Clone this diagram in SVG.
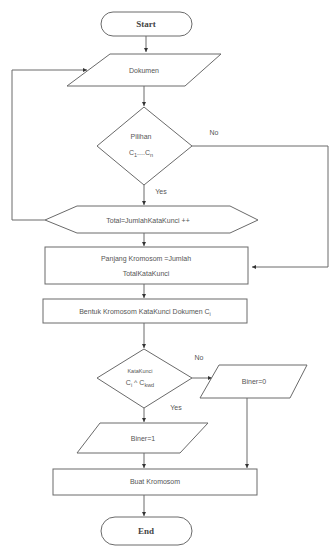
<svg xmlns="http://www.w3.org/2000/svg" width="333" height="548" viewBox="0 0 333 548">
<style>
.s{fill:#fff;stroke:#6a6a6a;stroke-width:1}
.c{fill:none;stroke:#6a6a6a;stroke-width:1}
.t{font-family:"Liberation Sans",Arial,sans-serif;font-size:7px;fill:#555;text-anchor:middle}
.sm{font-size:5.5px}
.b{font-family:"Liberation Serif","Times New Roman",serif;font-size:9px;font-weight:bold;fill:#444;text-anchor:middle}
</style>
<defs>
<marker id="a" viewBox="0 0 6 6" refX="6" refY="3" markerWidth="4" markerHeight="4" orient="auto">
<path d="M0,0L6,3L0,6z" fill="#333"/>
</marker>
</defs>
<g id="connectors">
<path class="c" d="M146,36V52" marker-end="url(#a)"/>
<path class="c" d="M144,86V106" marker-end="url(#a)"/>
<path class="c" d="M192,146H328V267H252" marker-end="url(#a)"/>
<path class="c" d="M144,185V205" marker-end="url(#a)"/>
<path class="c" d="M45,220H12V70H87" marker-end="url(#a)"/>
<path class="c" d="M144,233V246" marker-end="url(#a)"/>
<path class="c" d="M144,284V298" marker-end="url(#a)"/>
<path class="c" d="M144,323V348" marker-end="url(#a)"/>
<path class="c" d="M192,378H212" marker-end="url(#a)"/>
<path class="c" d="M144,408V422" marker-end="url(#a)"/>
<path class="c" d="M247,398V468" marker-end="url(#a)"/>
<path class="c" d="M144,453V468" marker-end="url(#a)"/>
<path class="c" d="M144,495V516" marker-end="url(#a)"/>
<text class="t" x="214" y="135">No</text>
<text class="t" x="161" y="194">Yes</text>
<text class="t" x="199" y="360">No</text>
<text class="t" x="176" y="410">Yes</text>
</g>
<g id="start">
<rect class="s" x="101" y="12" width="91" height="24" rx="12"/>
<text class="b" x="146" y="27">Start</text>
</g>
<g id="dokumen">
<path class="s" d="M110,54H221L185,86H67z"/>
<text class="t" x="144" y="73">Dokumen</text>
</g>
<g id="pilihan">
<path class="s" d="M144,107L192,146L144,185L97,146z"/>
<text class="t" x="141" y="139">Pilihan</text>
<text class="t" x="141" y="155">C<tspan class="sm" dy="1.5">1</tspan><tspan dy="-1.5">....C</tspan><tspan class="sm" dy="1.5">n</tspan></text>
</g>
<g id="total">
<path class="s" d="M45,220L77,206H230L258,220L230,233H77z"/>
<text class="t" x="148" y="223">Total=JumlahKataKunci ++</text>
</g>
<g id="panjang">
<rect class="s" x="45" y="247" width="203" height="37"/>
<text class="t" x="146" y="261">Panjang Kromosom =Jumlah</text>
<text class="t" x="146" y="276">TotalKataKunci</text>
</g>
<g id="bentuk">
<rect class="s" x="43" y="299" width="204" height="24"/>
<text class="t" x="145" y="314">Bentuk Kromosom KataKunci Dokumen C<tspan class="sm" dy="1.5">i</tspan></text>
</g>
<g id="katakunci">
<path class="s" d="M144,349L192,378L144,408L97,378z"/>
<text class="t sm" x="140" y="373">KataKunci</text>
<text class="t" x="140" y="385">C<tspan class="sm" dy="1.5">i</tspan><tspan dy="-1.5"> ^ C</tspan><tspan class="sm" dy="1.5">kwd</tspan></text>
</g>
<g id="biner0">
<path class="s" d="M219,365H307L290,398H200z"/>
<text class="t" x="254" y="384">Biner=0</text>
</g>
<g id="biner1">
<path class="s" d="M100,423H208L180,453H77z"/>
<text class="t" x="143" y="441">Biner=1</text>
</g>
<g id="buat">
<rect class="s" x="53" y="469" width="204" height="26"/>
<text class="t" x="155" y="484">Buat  Kromosom</text>
</g>
<g id="end">
<rect class="s" x="101" y="517" width="91" height="28" rx="14"/>
<text class="b" x="146" y="534">End</text>
</g>
</svg>
